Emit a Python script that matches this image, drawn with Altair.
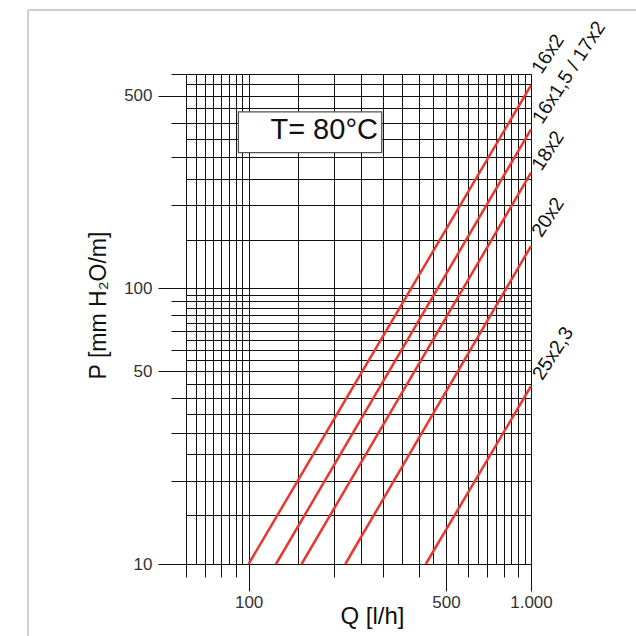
import altair as alt
import pandas as pd

# ---- data ----
sizes = ["16x2", "16x1,5 / 17x2", "18x2", "20x2", "25x2,3"]
q_start = [100, 125, 154, 220, 424]
p_start = [10, 10, 10, 10, 10]
q_end = [1000, 1000, 1000, 1000, 1000]
p_end = [546, 378, 263, 142.5, 44.2]
label_q = [1090, 1095, 1090, 1090, 1095]
label_p = [595, 392, 265, 152, 46]

x_grid = [60, 65, 70, 75, 80, 85, 90, 95, 100, 150, 200, 250, 300, 350, 400, 450,
          500, 550, 600, 650, 700, 750, 800, 850, 900, 950, 1000]
x_ticks = [60, 70, 80, 90, 100, 200, 300, 400, 500, 600, 700, 800, 900, 1000]
x_labeled = [100, 500, 1000]
x_label_text = ["100", "500", "1.000"]

y_grid = [10, 15, 20, 25, 30, 35, 40, 45, 50, 55, 60, 65, 70, 75, 80, 85, 90, 95, 100,
          150, 200, 250, 300, 350, 400, 450, 500, 550, 600]
y_ticks = [10, 20, 30, 40, 50, 60, 70, 80, 90, 100, 200, 300, 400, 500, 600]
y_labeled = [10, 50, 100, 500]
y_label_text = ["10", "50", "100", "500"]

box_q = [92, 296]
box_p = [311, 437]
temp_text = "T= 80°C"
temp_q = 287
temp_p = 348

# ---- tables ----
rows = []
for s, qa, pa, qb, pb in zip(sizes, q_start, p_start, q_end, p_end):
    rows.append({"size": s, "q": qa, "p": pa})
    rows.append({"size": s, "q": qb, "p": pb})
lines_df = pd.DataFrame(rows)
labels_df = pd.DataFrame({"size": sizes, "q": label_q, "p": label_p})

FONT = "Liberation Sans"


def label_expr(vals, texts):
    expr = "''"
    for v, t in reversed(list(zip(vals, texts))):
        expr = f"datum.value == {v} ? '{t}' : {expr}"
    return expr


def in_list(vals):
    return f"indexof({list(vals)}, datum.value) >= 0"


x_scale = alt.Scale(type="log", domain=[60, 1000], nice=False)
y_scale = alt.Scale(type="log", domain=[10, 600], nice=False)

x_axis = alt.Axis(
    values=x_grid, grid=True, gridColor="#111", gridWidth=1, gridOpacity=1,
    domain=True, domainColor="#111", domainWidth=1,
    ticks=True, tickColor="#111", tickWidth=1,
    tickOpacity={"condition": {"test": in_list(x_ticks), "value": 1}, "value": 0},
    tickSize={"condition": {"test": in_list(x_labeled), "value": 27}, "value": 13},
    labelExpr=label_expr(x_labeled, x_label_text), labelOverlap=False, labelFlush=False,
    labelFont=FONT, labelFontSize=17, labelColor="#333", labelPadding=3,
    title="Q [l/h]", titleFont=FONT, titleFontSize=24, titleFontWeight="normal",
    titleColor="#111", titleX=186, titleY=59, titleBaseline="alphabetic",
    titleAlign="center",
)
y_axis = alt.Axis(
    values=y_grid, grid=True, gridColor="#111", gridWidth=1, gridOpacity=1,
    domain=True, domainColor="#111", domainWidth=1,
    ticks=True, tickColor="#111", tickWidth=1,
    tickOpacity={"condition": {"test": in_list(y_ticks), "value": 1}, "value": 0},
    tickSize={"condition": {"test": in_list(y_labeled), "value": 28}, "value": 15},
    labelExpr=label_expr(y_labeled, y_label_text), labelOverlap=False, labelFlush=False,
    labelFont=FONT, labelFontSize=17, labelColor="#333", labelPadding=6,
    title="P [mm H₂O/m]", titleFont=FONT, titleFontSize=23, titleFontWeight="normal",
    titleColor="#111", titleX=-81, titleY=231, titleAngle=270, titleBaseline="alphabetic",
    titleAlign="center",
)

lines = alt.Chart(lines_df).mark_line(color="#e8372c", strokeWidth=2.5, clip=False).encode(
    x=alt.X("q:Q", scale=x_scale, axis=x_axis),
    y=alt.Y("p:Q", scale=y_scale, axis=y_axis),
    detail="size:N",
)

box = alt.Chart(pd.DataFrame({"a": [0]})).mark_rect(
    fill="white", stroke="#555", strokeWidth=1.3
).encode(
    x=alt.X(datum=box_q[0], scale=x_scale, axis=x_axis),
    x2=alt.X2(datum=box_q[1]),
    y=alt.Y(datum=box_p[1], scale=y_scale, axis=y_axis),
    y2=alt.Y2(datum=box_p[0]),
)

temp = alt.Chart(pd.DataFrame({"a": [0]})).mark_text(
    text=temp_text, font=FONT, fontSize=29, align="right", baseline="alphabetic", color="#111"
).encode(
    x=alt.X(datum=temp_q, scale=x_scale, axis=x_axis),
    y=alt.Y(datum=temp_p, scale=y_scale, axis=y_axis),
)

labels = alt.Chart(labels_df).mark_text(
    font=FONT, fontSize=19.5, align="left", baseline="alphabetic", angle=303,
    color="#111", clip=False
).encode(
    x=alt.X("q:Q", scale=x_scale, axis=x_axis),
    y=alt.Y("p:Q", scale=y_scale, axis=y_axis),
    text="size:N",
)

frame_h = alt.Chart(pd.DataFrame({"a": [0]})).mark_rule(color="#cfcfcf", strokeWidth=2).encode(
    x=alt.value(-158), x2=alt.value(460), y=alt.value(-64)
)
frame_v = alt.Chart(pd.DataFrame({"a": [0]})).mark_rule(color="#cfcfcf", strokeWidth=2).encode(
    x=alt.value(-158), y=alt.value(-64), y2=alt.value(570)
)

chart = alt.layer(lines, box, temp, labels, frame_h, frame_v).properties(
    width=345, height=490,
    padding={"left": 186, "top": 74, "right": 105, "bottom": 72},
    autosize=alt.AutoSizeParams(type="none"),
).configure_view(stroke=None).configure(background="white")

chart.save("out.html", embed_options={"renderer": "svg", "actions": False})
